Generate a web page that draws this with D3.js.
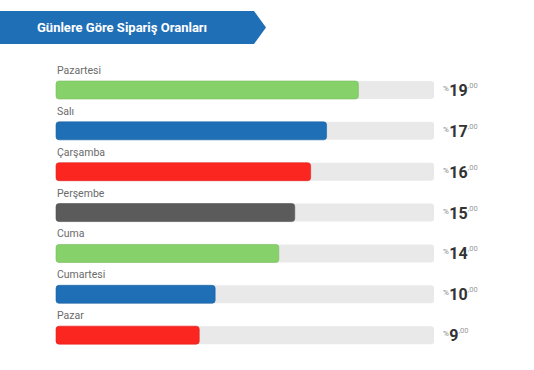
<!DOCTYPE html>
<html>
<head>
<meta charset="utf-8">
<script src="https://cdn.jsdelivr.net/npm/d3@7"></script>
<style>
  body { margin: 0; background: #fff; font-family: Roboto, "Open Sans", sans-serif; }
</style>
</head>
<body>
<div id="chart"></div>
<script>
// data
var days = ["Pazartesi", "Salı", "Çarşamba", "Perşembe", "Cuma", "Cumartesi", "Pazar"];
var rates = [19, 17, 16, 15, 14, 10, 9];
var colors = ["#86d16a", "#1f6fb7", "#fb2620", "#5b5b5b", "#86d16a", "#1f6fb7", "#fb2620"];
var title = "Günlere Göre Sipariş Oranları";

var W = 534, H = 370;
var svg = d3.select("#chart").append("svg").attr("width", W).attr("height", H);

// title banner
svg.append("path")
  .attr("d", "M0,11 L254,11 L266,27.5 L254,44 L0,44 Z")
  .attr("fill", "#1f6fb7");
svg.append("text")
  .attr("x", 37).attr("y", 32)
  .attr("fill", "#fff")
  .attr("font-size", "13px").attr("font-weight", "bold")
  .text(title);

// scales
var x = d3.scaleLinear().domain([0, 23.75]).range([56, 434]);
var y = d3.scaleBand().domain(days).range([62, 348]).paddingInner(0);
var barH = 18;

var rows = svg.selectAll("g.row").data(days).enter()
  .append("g").attr("class", "row")
  .attr("transform", function(d) { return "translate(0," + y(d) + ")"; });

rows.append("text")
  .attr("x", 57).attr("y", 12)
  .attr("fill", "#6a6a6a").attr("font-size", "10.5px")
  .text(function(d) { return d; });

rows.append("rect")
  .attr("x", x(0)).attr("y", 19)
  .attr("width", x(23.75) - x(0)).attr("height", barH)
  .attr("rx", 3).attr("fill", "#e9e9e9");

rows.append("rect")
  .attr("x", x(0)).attr("y", 19)
  .attr("width", function(d, i) { return x(rates[i]) - x(0); })
  .attr("height", barH)
  .attr("rx", 3)
  .attr("fill", function(d, i) { return colors[i]; })
  .attr("stroke", function(d, i) { return d3.color(colors[i]).darker(0.3); })
  .attr("stroke-width", 0.6);

var val = rows.append("text")
  .attr("x", 443).attr("y", 34)
  .attr("fill", "#333");
val.append("tspan").attr("font-size", "8px").attr("fill", "#888").attr("dy", -5).text("%");
val.append("tspan").attr("font-size", "16px").attr("font-weight", "bold").attr("dy", 5)
  .attr("dx", 0.5)
  .text(function(d, i) { return rates[i]; });
val.append("tspan").attr("font-size", "7.5px").attr("fill", "#999").attr("dy", -8)
  .text(",00");
</script>
</body>
</html>
